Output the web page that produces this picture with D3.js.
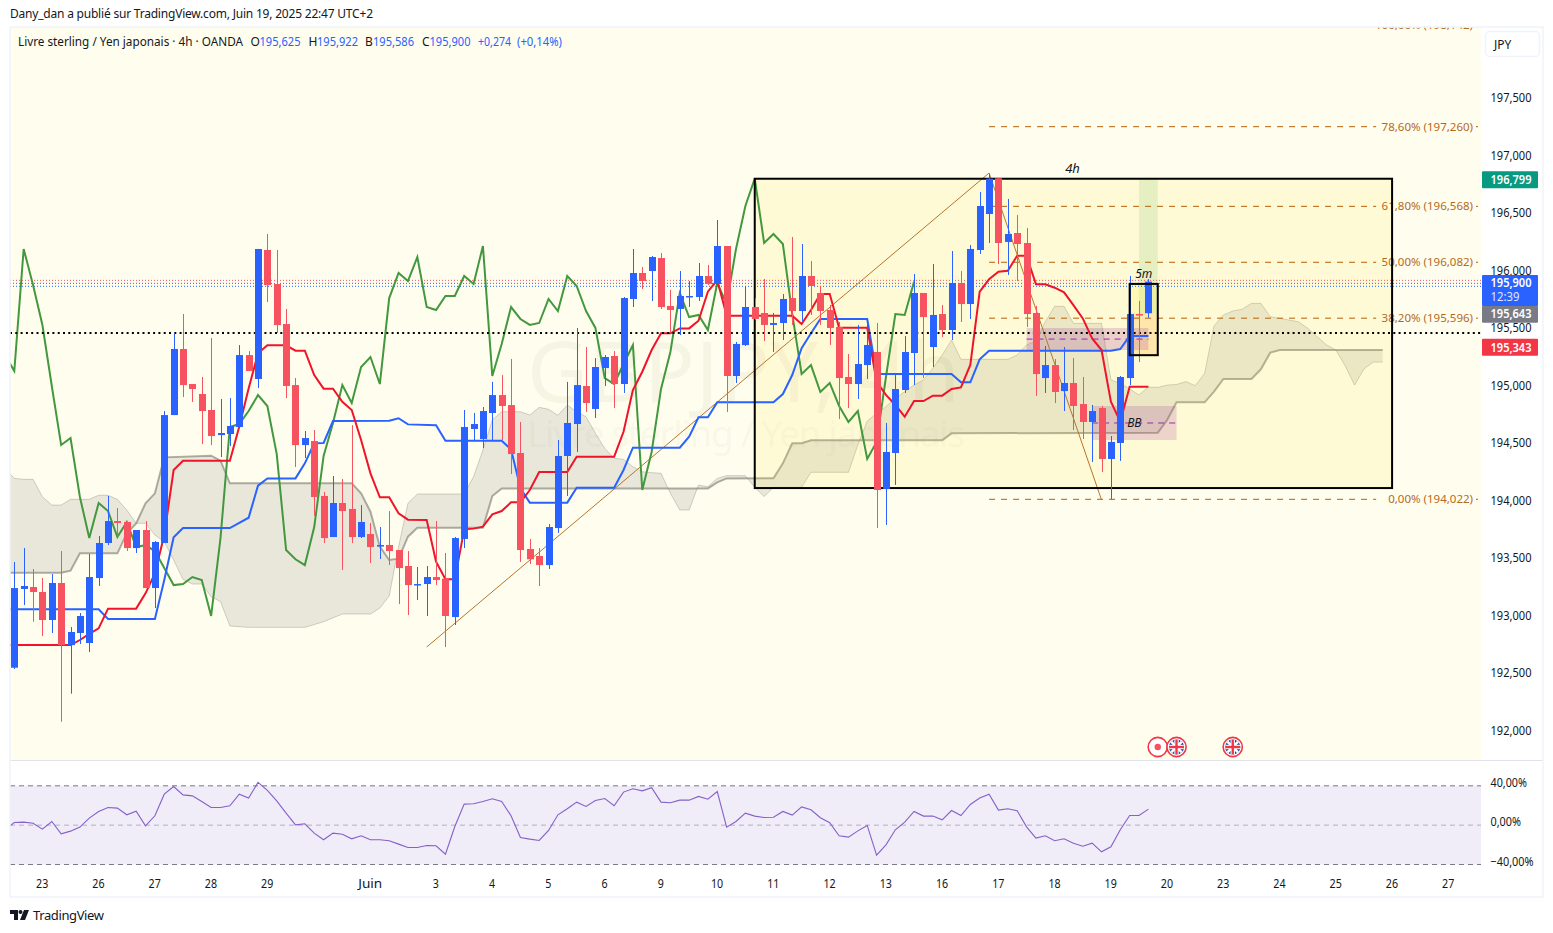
<!DOCTYPE html>
<html><head><meta charset="utf-8">
<script src="https://cdn.jsdelivr.net/npm/d3@7"></script>
<style>html,body{margin:0;padding:0;background:#fff}svg{display:block}text{font-family:"Noto Sans",sans-serif}</style>
</head><body>
<script>
const opens=[192.541,193.226,193.243,193.200,192.956,193.278,192.738,192.843,192.756,193.321,193.626,193.817,193.809,193.582,193.739,193.234,193.626,194.739,195.314,195.009,194.922,194.783,194.565,194.574,194.635,195.261,195.053,196.175,195.879,195.531,195.000,194.478,194.513,194.035,193.678,193.974,193.922,193.678,193.704,193.603,193.609,193.565,193.426,193.260,193.269,193.330,193.316,192.982,193.661,194.618,194.531,194.757,194.913,194.826,194.409,193.574,193.513,193.434,193.756,194.383,194.661,194.992,194.792,195.148,195.253,195.009,195.749,195.975,195.992,196.105,195.688,195.662,195.766,195.766,195.949,195.879,196.210,195.079,195.348,195.679,195.627,195.523,195.540,195.757,195.644,195.949,195.801,195.653,195.505,195.070,195.009,195.174,195.288,194.096,194.409,194.957,195.279,195.801,195.331,195.618,195.479,195.888,195.705,196.175,196.488,196.799,196.245,196.323,196.236,195.627,195.061,195.174,194.948,195.018,194.835,194.679,194.800,194.357,194.496,195.061,195.618,195.625];
const highs=[193.461,193.582,193.400,193.321,193.356,193.556,192.895,193.017,193.530,193.687,194.035,193.930,193.809,193.739,193.817,193.643,194.774,195.453,195.618,195.009,195.070,195.409,194.879,194.887,195.348,195.296,196.184,196.314,196.175,195.662,195.061,194.600,194.609,194.070,194.209,194.183,194.652,193.956,193.800,193.765,193.904,193.565,193.556,193.417,193.426,193.817,193.539,193.678,194.783,194.757,194.809,195.027,195.087,195.227,194.679,193.661,193.582,193.791,194.522,195.027,195.496,195.331,195.235,195.261,195.296,195.766,196.184,196.027,196.123,196.149,195.827,195.992,195.905,196.062,196.044,196.436,196.210,195.375,195.862,195.757,195.923,195.627,195.792,196.288,196.227,196.079,195.862,195.697,195.549,195.270,195.523,195.523,195.540,194.670,195.096,195.427,195.966,195.801,196.053,195.697,196.166,195.992,196.218,196.680,196.836,196.799,196.619,196.480,196.367,195.688,195.340,195.226,195.331,195.235,195.070,194.827,194.818,194.557,195.079,195.949,195.732,195.922];
const lows=[192.530,193.086,192.941,192.817,192.843,192.071,192.315,192.747,192.678,193.252,193.608,193.681,193.556,193.539,193.234,193.060,193.626,194.739,194.896,194.853,194.487,194.478,194.374,194.470,194.635,195.122,194.974,195.723,195.453,194.887,194.287,194.365,193.861,193.626,193.678,193.391,193.626,193.669,193.452,193.487,193.434,193.095,192.999,193.130,192.991,193.260,192.721,192.912,193.582,194.522,194.452,194.522,194.522,194.226,193.461,193.443,193.252,193.400,193.713,194.035,194.418,194.766,194.713,194.992,194.800,194.931,195.679,195.836,195.731,195.662,195.453,195.435,195.679,195.731,195.871,195.862,194.766,195.018,195.340,195.566,195.383,195.288,195.392,195.523,195.557,195.610,195.523,195.349,194.705,194.800,194.879,195.053,193.757,193.783,194.131,194.931,195.000,195.061,195.157,195.418,195.392,195.549,195.575,196.140,196.236,196.053,195.958,195.905,195.505,194.905,194.931,194.844,194.774,194.609,194.531,194.331,194.244,194.009,194.340,195.000,195.200,195.586];
const closes=[193.234,193.252,193.200,192.956,193.278,192.738,192.852,192.991,193.330,193.626,193.817,193.800,193.582,193.739,193.234,193.635,194.739,195.314,195.000,194.966,194.774,194.557,194.583,194.644,195.261,195.122,196.184,195.870,195.522,194.992,194.478,194.539,194.026,193.669,193.974,193.904,193.678,193.809,193.591,193.608,193.556,193.408,193.260,193.269,193.330,193.304,192.991,193.669,194.635,194.661,194.774,194.913,194.818,194.400,193.565,193.484,193.434,193.765,194.383,194.670,195.000,194.844,195.157,195.244,195.009,195.757,195.975,195.905,196.114,195.679,195.653,195.775,195.775,195.949,195.879,196.210,195.079,195.357,195.679,195.575,195.523,195.540,195.749,195.644,195.949,195.862,195.644,195.497,195.061,195.009,195.183,195.349,194.087,194.418,194.966,195.288,195.801,195.592,195.610,195.479,195.888,195.705,196.184,196.558,196.796,196.236,196.314,196.227,195.618,195.096,195.174,194.940,195.018,194.818,194.679,194.774,194.357,194.505,195.070,195.618,195.610,195.900];
// Tenkan (red)
const tenkanBar=[-1,6,7,8,9,10,13,14,15,16,17,18,23,24,25,26,27,29,30,31,32,33,34,35,36,37,38,39,40,41,42,44,45,46,47,48,49,50,51,52,53,54,55,56,59,60,64,65,66,67,68,69,70,71,72,73,74,75,76,83,84,85,86,87,88,91,92,93,94,95,96,97,98,99,100,101,102,103,104,105,106,107,108,109,110,111,112,113,114,115,116,117,118,119,121];
const tenkanVal=[192.738,192.738,192.782,192.835,192.883,193.055,193.055,193.188,193.362,193.695,194.261,194.342,194.342,194.638,194.971,195.276,195.346,195.346,195.299,195.299,195.087,194.969,194.969,194.855,194.783,194.522,194.232,194.023,194.023,193.884,193.829,193.826,193.463,193.310,193.310,193.745,193.751,193.768,193.875,193.904,193.980,193.980,194.087,194.244,194.244,194.377,194.377,194.594,194.957,195.116,195.305,195.450,195.450,195.493,195.493,195.560,195.812,195.914,195.604,195.604,195.531,195.653,195.792,195.792,195.499,195.499,195.030,194.914,194.827,194.725,194.861,194.861,194.908,194.908,194.966,194.980,195.175,195.812,195.920,195.986,195.995,196.126,196.126,195.876,195.876,195.847,195.807,195.696,195.580,195.406,195.305,194.856,194.682,194.986,194.986];
// Kijun (blue)
const kijunBar=[-1,9,10,15,16,17,18,23,25,26,27,30,31,32,33,34,40,41,42,45,46,52,53,54,55,59,60,64,65,66,71,72,73,74,75,81,82,83,84,85,86,91,92,100,101,102,103,104,117,118,119,121];
const kijunVal=[193.049,193.049,192.965,192.965,193.304,193.675,193.756,193.756,193.846,194.125,194.188,194.188,194.319,194.493,194.496,194.687,194.690,194.711,194.658,194.650,194.516,194.516,194.441,194.101,193.977,193.977,194.107,194.107,194.261,194.455,194.455,194.551,194.719,194.719,194.850,194.850,194.922,195.087,195.320,195.450,195.575,195.575,195.096,195.096,195.024,195.024,195.224,195.299,195.299,195.314,195.427,195.427];
// Chikou (green), bars -1 .. 96
const chikou=[195.261,195.122,196.184,195.870,195.522,194.992,194.478,194.539,194.026,193.669,193.974,193.904,193.678,193.809,193.591,193.608,193.556,193.408,193.260,193.269,193.330,193.304,192.991,193.669,194.635,194.661,194.774,194.913,194.818,194.400,193.565,193.484,193.434,193.765,194.383,194.670,195.000,194.844,195.157,195.244,195.009,195.757,195.975,195.905,196.114,195.679,195.653,195.775,195.775,195.949,195.879,196.210,195.079,195.357,195.679,195.575,195.523,195.540,195.749,195.644,195.949,195.862,195.644,195.497,195.061,195.009,195.183,195.349,194.087,194.418,194.966,195.288,195.801,195.592,195.610,195.479,195.888,195.705,196.184,196.558,196.796,196.236,196.314,196.227,195.618,195.096,195.174,194.940,195.018,194.818,194.679,194.774,194.357,194.505,195.070,195.618,195.610,195.900];
// Ichimoku cloud edges
const spanABar=[-0.5,0,1,2,3,4,5,6,8,9,10,11,12,13,14,15,16,17,18,19,20,21,22,23,25,31,33,35,38,39,40,41,42,43,48,49,50,51,52,54,55,56,57,58,59,60,61,62,63,64,65,66,67,68,69,70,71,72,73,74,75,76,78,79,80,81,84,85,89,90,91,92,93,94,95,96,97,98,99,100,101,106,107,108,109,110,111,112,113,116,117,118,119,120,121,122,123,124,125,126,127,128,129,130,131,132,133,134,135,136,137,138,139,140,141,142,143,144,145,146];
const spanAVal=[194.232,194.188,194.180,194.180,194.029,193.956,193.956,194.006,194.006,194.041,194.041,194.006,193.913,193.797,193.797,193.695,193.637,193.478,193.310,193.269,193.269,193.159,193.116,192.904,192.892,192.892,192.941,193.008,193.008,193.060,193.165,193.594,193.971,194.052,194.052,194.203,194.435,194.696,194.768,194.768,194.739,194.806,194.789,194.737,194.826,194.768,194.725,194.580,194.449,194.362,194.354,194.290,194.246,194.238,194.232,194.058,193.913,193.913,194.130,194.116,194.188,194.212,194.212,194.110,194.030,194.110,194.110,194.241,194.241,194.479,194.687,194.754,194.812,194.885,194.943,195.000,195.044,195.146,195.261,195.392,195.224,195.224,195.261,195.349,195.383,195.551,195.685,195.685,195.537,195.537,195.044,195.015,194.966,194.914,194.983,194.980,195.000,195.005,195.030,194.995,195.102,195.514,195.610,195.644,195.660,195.711,195.711,195.595,195.580,195.566,195.551,195.494,195.421,195.350,195.305,195.166,195.000,195.140,195.200,195.200];
const spanBBar=[-0.5,5,6,7,11,12,13,14,15,16,21,22,23,36,37,38,39,40,41,42,43,50,51,52,74,75,76,81,82,83,84,85,99,100,122,123,124,127,128,129,132,133,134,135,146];
const spanBVal=[193.368,193.368,193.385,193.536,193.536,193.710,193.797,193.971,194.058,194.371,194.386,194.342,194.145,194.145,194.058,193.898,193.594,193.478,193.490,193.681,193.759,193.759,194.035,194.101,194.101,194.154,194.188,194.189,194.319,194.494,194.494,194.519,194.519,194.580,194.586,194.696,194.850,194.850,194.943,195.053,195.053,195.137,195.282,195.305,195.305];
// RSI pane, bars -1 .. 121
const rsiVal=[-4.7,2.7,3.1,2.0,-4.1,3.7,-8.8,-6.1,-2.0,7.1,13.9,18.0,17.3,10.5,14.2,-0.7,9.5,31.5,39.3,30.8,29.8,24.1,18.0,18.0,19.7,31.5,27.5,43.4,35.3,24.7,12.2,0.3,1.4,-8.1,-14.9,-8.1,-9.2,-13.9,-10.8,-14.9,-14.9,-15.9,-19.3,-22.7,-22.7,-20.7,-21,-29.5,-1.4,21.4,21.7,24.1,26.8,24.1,9.5,-12.5,-14.2,-15.6,-5.4,10.5,16.6,23.4,19,25.1,27.1,19.7,33.6,37,34.9,38,23.4,22.7,25.4,25.4,29.2,26.4,34.2,-2,3.7,12.2,9.2,7.8,8.1,13.9,10.2,18.6,15.6,7.5,2.4,-10.8,-12.2,-5.8,-0.3,-30.5,-20,-4.7,3.1,13.9,9.2,9.2,5.4,14.9,9.8,21,27.5,31.5,15.3,16.6,14.6,-1.7,-13.2,-10.8,-15.9,-13.9,-18.3,-21.4,-18.3,-27.1,-22,-4.7,9.8,9.8,16.3];
const rsiBands=[40,0,-40];
// Axis ticks
const priceTicks=[197.5,197,196.5,196,195.5,195,194.5,194,193.5,193,192.5,192];
const dayBars=[3,9,15,21,27,38,45,51,57,63,69,75,81,87,93,99,105,111,117,123,129,135,141,147,153];
const dayLabels=["23","26","27","28","29","Juin","3","4","5","6","9","10","11","12","13","16","17","18","19","20","23","24","25","26","27"];
// Fibonacci
const fibLabels=["100,00%","78,60%","61,80%","50,00%","38,20%","0,00%"];
const fibPrices=[198.142,197.260,196.568,196.082,195.596,194.022];
const loc=d3.formatLocale({decimal:",",thousands:" ",grouping:[3],currency:["","€"]});
const fibTextFmt=loc.format(".3f");
const pctFmt=loc.format(".2f");
// Levels and tags
const dotLevels=[{p:195.911,c:"#f7525f"},{p:195.885,c:"#2962ff"},{p:195.859,c:"#2962ff"}];
const blackDotLevel=195.449;
const tags=[{p:196.799,t:"196,799",c:"#089981",push:0},{p:195.643,t:"195,643",c:"#787b86",push:1.4},{p:195.343,t:"195,343",c:"#f23645",push:0}];
const eventBars=[122,124,130];

const W=1553,H=933;
const PL=10,PR=1481,PT=27,PB=760;
const x=d3.scaleLinear().domain([0,121]).range([14.3,1148.4]);
const y=d3.scaleLinear().domain([192,197.5]).range([729.9,97.7]);
// exact level placement on the price scale (Fibonacci lines and price tags)
const yL=d3.scaleLinear().domain([194.022,197.26]).range([499.3,126.7]);
const ry=d3.scaleLinear().domain([-40,40]).range([864.5,785.8]);
const svg=d3.select("body").append("svg").attr("width",W).attr("height",H);
const defs=svg.append("defs");
defs.append("clipPath").attr("id","plot").append("rect").attr("x",PL).attr("y",PT).attr("width",PR-PL).attr("height",PB-PT);

svg.append("rect").attr("x",PL).attr("y",PT).attr("width",PR-PL).attr("height",PB-PT).attr("fill","#fffeee");
const g=svg.append("g").attr("clip-path","url(#plot)");

const lineXY=(xs,ys,xf=x,yf=y)=>d3.line().x((d,i)=>xf(xs[i])).y((d,i)=>yf(ys[i]))(xs);
// watermark
g.append("text").attr("x",527).attr("y",402).attr("font-size",84).attr("fill","rgba(90,90,60,0.055)").text("GBPJPY, 4h").attr("textLength",433);
g.append("text").attr("x",527).attr("y",447).attr("font-size",37).attr("fill","rgba(90,90,60,0.055)").text("Livre sterling / Yen japonais").attr("textLength",438);
// cloud
const aPath=lineXY(spanABar,spanAVal);
const bRev=spanBBar.slice().reverse(), bRevV=spanBVal.slice().reverse();
const bPath=lineXY(bRev,bRevV);
g.append("path").attr("d",aPath+"L"+bPath.slice(1)+"Z").attr("fill","rgba(120,120,110,0.17)").attr("stroke","none");
g.append("path").attr("d",aPath).attr("fill","none").attr("stroke","rgba(120,120,110,0.33)").attr("stroke-width",1);
g.append("path").attr("d",lineXY(spanBBar,spanBVal)).attr("fill","none").attr("stroke","rgba(120,120,110,0.6)").attr("stroke-width",2);

// rectangles (bar index, price)
const rectP=(a,b,top,bot)=>g.append("rect").attr("x",x(a)).attr("y",y(top)).attr("width",x(b)-x(a)).attr("height",y(bot)-y(top));
rectP(79,147,196.795,194.104).attr("fill","rgba(255,224,70,0.14)");
rectP(120,122,196.795,195.625).attr("fill","rgba(76,175,80,0.14)");
rectP(119,122,195.880,195.625).attr("fill","rgba(255,235,59,0.22)");
rectP(119,122,195.625,195.260).attr("fill","rgba(255,152,0,0.2)");
rectP(108,121,195.496,195.305).attr("fill","rgba(150,40,150,0.2)");
rectP(115,124,194.818,194.522).attr("fill","rgba(150,40,150,0.18)");
const dashH=(a,b,p,c,da)=>g.append("line").attr("x1",x(a)).attr("x2",x(b)).attr("y1",y(p)).attr("y2",y(p)).attr("stroke",c).attr("stroke-dasharray",da);
dashH(108,121,195.40,"#9c27b0","6 5");
dashH(115,124,194.67,"#9c27b0","6 5");

// dotted levels
dotLevels.forEach(d=>g.append("line").attr("x1",PL).attr("x2",PR).attr("y1",y(d.p)).attr("y2",y(d.p)).attr("stroke",d.c).attr("stroke-width",1).attr("stroke-dasharray","1 2"));

// fib
fibPrices.forEach((p,i)=>{
  g.append("line").attr("x1",x(104)).attr("x2",x(145.3)).attr("y1",yL(p)).attr("y2",yL(p)).attr("stroke","#b45f06").attr("stroke-dasharray","6 6");
  g.append("line").attr("x1",1476).attr("x2",1478).attr("y1",yL(p)).attr("y2",yL(p)).attr("stroke","#b45f06");
  g.append("text").attr("x",1473).attr("y",yL(p)+4).attr("text-anchor","end").attr("font-size",11.5).attr("fill","#b4691f").text(fibLabels[i]+" ("+fibTextFmt(p)+")");
});
// trend lines
const tlBar=[44,104,116], tlVal=[192.721,196.845,194.0];
g.append("path").attr("d",lineXY(tlBar,tlVal)).attr("fill","none").attr("stroke","#b5752d").attr("stroke-width",1);

// ichimoku lines
const chikouBars=chikou.map((d,i)=>i-1);
g.append("path").attr("d",lineXY(chikouBars,chikou)).attr("fill","none").attr("stroke","#43983f").attr("stroke-width",2);
g.append("path").attr("d",lineXY(kijunBar,kijunVal)).attr("fill","none").attr("stroke","#2962ff").attr("stroke-width",2);
g.append("path").attr("d",lineXY(tenkanBar,tenkanVal)).attr("fill","none").attr("stroke","#f0142a").attr("stroke-width",2);

// black dotted
const byy=Math.round(y(blackDotLevel));
g.append("line").attr("x1",PL).attr("x2",PR).attr("y1",byy).attr("y2",byy).attr("stroke","#000").attr("stroke-width",2).attr("stroke-dasharray","2 3.3");

// 4h box border
rectP(79,147,196.795,194.104).attr("fill","none").attr("stroke","#000").attr("stroke-width",2);
g.append("text").attr("x",x(112.9)).attr("y",173).attr("text-anchor","middle").attr("font-size",13).attr("font-style","italic").attr("fill","#131722").text("4h");

// candles
const cg=g.append("g");
opens.forEach((o,i)=>{
  const c=closes[i], col=c>=o?"#2962ff":"#f7525f", cx=Math.round(x(i));
  cg.append("line").attr("x1",cx+.5).attr("x2",cx+.5).attr("y1",y(highs[i])).attr("y2",y(lows[i])).attr("stroke",col).attr("stroke-width",1);
  const t=Math.min(y(o),y(c)), h=Math.max(1.5,Math.abs(y(o)-y(c)));
  cg.append("rect").attr("x",cx-3).attr("width",7).attr("y",t).attr("height",h).attr("fill",col);
});
// 5m box border over candles
rectP(119,122,195.880,195.260).attr("fill","none").attr("stroke","#000").attr("stroke-width",2);
g.append("text").attr("x",x(120.5)).attr("y",278).attr("text-anchor","middle").attr("font-size",12).attr("font-style","italic").attr("fill","#131722").text("5m");
g.append("text").attr("x",x(119.5)).attr("y",427).attr("text-anchor","middle").attr("font-size",12).attr("font-style","italic").attr("fill","#131722").text("BB");

// event icons
const flagClip=(id,cx,cy,r)=>defs.append("clipPath").attr("id",id).append("circle").attr("cx",cx).attr("cy",cy).attr("r",r);
eventBars.forEach((b,i)=>{
  const cx=x(b), cy=747, r=9.6;
  const ig=svg.append("g");
  ig.append("circle").attr("cx",cx).attr("cy",cy).attr("r",r).attr("fill","#fff").attr("stroke","#f23645").attr("stroke-width",1.6);
  if(i===0){ ig.append("circle").attr("cx",cx).attr("cy",cy).attr("r",3.2).attr("fill","#f7525f"); return; }
  flagClip("fl"+i,cx,cy,r-2);
  const f=ig.append("g").attr("clip-path","url(#fl"+i+")");
  f.append("rect").attr("x",cx-9).attr("y",cy-9).attr("width",18).attr("height",18).attr("fill","#1d4f9e");
  [[-1,-1,1,1],[-1,1,1,-1]].forEach(s=>f.append("line").attr("x1",cx+s[0]*9).attr("y1",cy+s[1]*9).attr("x2",cx+s[2]*9).attr("y2",cy+s[3]*9).attr("stroke","#fff").attr("stroke-width",2.6));
  f.append("rect").attr("x",cx-9).attr("y",cy-2.2).attr("width",18).attr("height",4.4).attr("fill","#fff");
  f.append("rect").attr("x",cx-2.2).attr("y",cy-9).attr("width",4.4).attr("height",18).attr("fill","#fff");
  f.append("rect").attr("x",cx-9).attr("y",cy-1.2).attr("width",18).attr("height",2.4).attr("fill","#f23645");
  f.append("rect").attr("x",cx-1.2).attr("y",cy-9).attr("width",2.4).attr("height",18).attr("fill","#f23645");
});

// RSI pane
svg.append("rect").attr("x",PL).attr("y",ry(40)).attr("width",PR-PL).attr("height",ry(-40)-ry(40)).attr("fill","#f0ecf8");
rsiBands.forEach(b=>svg.append("line").attr("x1",PL).attr("x2",PR).attr("y1",ry(b)).attr("y2",ry(b)).attr("stroke",b===0?"#b5afc2":"#787b86").attr("stroke-dasharray","5 4"));
const rsiBars=rsiVal.map((d,i)=>i-1);
defs.append("clipPath").attr("id","rsi").append("rect").attr("x",PL).attr("y",761).attr("width",PR-PL).attr("height",110);
svg.append("g").attr("clip-path","url(#rsi)").append("path").attr("d",lineXY(rsiBars,rsiVal,x,ry)).attr("fill","none").attr("stroke","#8660c9").attr("stroke-width",1.1);

// frame
svg.append("line").attr("x1",PL).attr("x2",1543).attr("y1",760.5).attr("y2",760.5).attr("stroke","#e0e3eb");
svg.append("rect").attr("x",10).attr("y",27).attr("width",1533).attr("height",870).attr("fill","none").attr("stroke","#f0f3fa").attr("stroke-width",1.5);

// axes
const priceAxis=d3.axisRight(y).tickValues(priceTicks).tickSize(0).tickPadding(0).tickFormat(d=>fibTextFmt(d));
const pa=svg.append("g").attr("transform","translate(1490.5,0.4)").call(priceAxis);
pa.select(".domain").remove();
pa.selectAll("text").attr("font-size",12).attr("fill","#131722").attr("textLength",41).attr("lengthAdjust","spacingAndGlyphs").style("font-family",'"Noto Sans",sans-serif');
const timeAxis=d3.axisBottom(x).tickValues(dayBars).tickSize(0).tickPadding(0).tickFormat(d=>dayLabels[dayBars.indexOf(d)]);
const ta=svg.append("g").attr("transform","translate(-0.7,879.5)").call(timeAxis);
ta.select(".domain").remove();
ta.selectAll("text").attr("font-size",12).attr("fill","#131722").style("font-family",'"Noto Sans",sans-serif')
  .attr("lengthAdjust","spacingAndGlyphs").attr("textLength",function(){const s=this.textContent;return s==="Juin"?24:s.length*6.1;});
const rsiAxis=d3.axisRight(ry).tickValues(rsiBands).tickSize(0).tickPadding(0).tickFormat(d=>pctFmt(d)+"%");
const ra=svg.append("g").attr("transform","translate(1490.5,-3)").call(rsiAxis);
ra.select(".domain").remove();
ra.selectAll("text").attr("font-size",12).attr("fill","#131722").style("font-family",'"Noto Sans",sans-serif')
  .attr("lengthAdjust","spacingAndGlyphs").attr("textLength",function(d){return d===40?36.5:d===0?30.5:43;});

// tags
tags.forEach(t=>{
  const cy=yL(t.p)+t.push;
  svg.append("rect").attr("x",1482).attr("y",cy-8.5).attr("width",56).attr("height",17).attr("rx",1).attr("fill",t.c);
  svg.append("text").attr("x",1490.5).attr("y",cy+4.3).attr("font-size",12).attr("font-weight",600).attr("fill","#fff").attr("textLength",41).attr("lengthAdjust","spacingAndGlyphs").text(t.t);
});
svg.append("rect").attr("x",1482).attr("y",275).attr("width",56).attr("height",31).attr("rx",1).attr("fill","#2962ff");
svg.append("text").attr("x",1490.5).attr("y",287).attr("font-size",12).attr("font-weight",600).attr("fill","#fff").attr("textLength",41).attr("lengthAdjust","spacingAndGlyphs").text("195,900");
svg.append("text").attr("x",1490.5).attr("y",301).attr("font-size",12).attr("fill","#dfe6ff").attr("textLength",29).attr("lengthAdjust","spacingAndGlyphs").text("12:39");

// JPY button
svg.append("rect").attr("x",1485.5).attr("y",31.5).attr("width",54).attr("height",25).attr("rx",4).attr("fill","#fff").attr("stroke","#f0f3fa").attr("stroke-width",1.5);
svg.append("text").attr("x",1494).attr("y",49).attr("font-size",12).attr("fill","#131722").text("JPY");

// header and legend
svg.append("text").attr("x",10).attr("y",18).attr("font-size",12).attr("fill","#131722").attr("textLength",363).text("Dany_dan a publié sur TradingView.com, Juin 19, 2025 22:47 UTC+2");
const legend=[[18,"Livre sterling / Yen japonais · 4h · OANDA","#131722",225],[250.6,"O","#131722"],[259.5,"195,625","#2962ff",41],[308.5,"H","#131722"],[317,"195,922","#2962ff",41],[365,"B","#131722"],[373,"195,586","#2962ff",41],[422,"C","#131722"],[429.5,"195,900","#2962ff",41],[478,"+0,274","#2962ff",33],[517,"(+0,14%)","#2962ff",45]];
legend.forEach(l=>{const t=svg.append("text").attr("x",l[0]).attr("y",46).attr("font-size",12).attr("fill",l[2]).text(l[1]); if(l[3])t.attr("textLength",l[3]).attr("lengthAdjust","spacingAndGlyphs");});

// footer
svg.append("path").attr("d","M10 910H18V920H14V914H10ZM24 910H29L25 920H20Z").attr("fill","#131722");
svg.append("circle").attr("cx",20.5).attr("cy",912).attr("r",2).attr("fill","#131722");
svg.append("text").attr("x",33).attr("y",920).attr("font-size",13).attr("fill","#131722").attr("textLength",71).text("TradingView");
</script>
</body></html>
